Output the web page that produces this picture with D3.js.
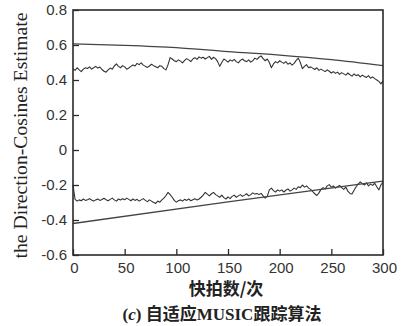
<!DOCTYPE html>
<html>
<head>
<meta charset="utf-8">
<script src="https://cdnjs.cloudflare.com/ajax/libs/d3/7.8.5/d3.min.js"></script>
<style>
  html, body { margin: 0; padding: 0; background: #fff; }
  svg { display: block; }
</style>
</head>
<body>
<svg id="chart" width="412" height="326"></svg>
<script>
// ---- data ----
const xTicks = [0, 50, 100, 150, 200, 250, 300];
const yTicks = [-0.6, -0.4, -0.2, 0, 0.2, 0.4, 0.6, 0.8];
const yTickLabels = ["-0.6", "-0.4", "-0.2", "0", "0.2", "0.4", "0.6", "0.8"];

// true trajectories (sampled)
const trueTopX = [0, 50, 100, 150, 200, 250, 300];
const trueTopY = [0.606, 0.598, 0.585, 0.562, 0.542, 0.516, 0.482];
const trueBotX = [0, 150, 300];
const trueBotY = [-0.42, -0.296, -0.178];

// estimated trajectories, one value every 2 snapshots (0..300)
const estStep = 2;
const estTop = [
  0.465,0.455,0.470,0.458,0.448,0.462,0.470,0.466,0.475,0.462,
  0.470,0.478,0.468,0.474,0.460,0.450,0.445,0.458,0.468,0.462,
  0.480,0.492,0.478,0.470,0.482,0.475,0.462,0.468,0.478,0.486,
  0.480,0.495,0.488,0.498,0.485,0.478,0.472,0.480,0.490,0.482,
  0.476,0.470,0.482,0.478,0.465,0.458,0.488,0.528,0.520,0.510,
  0.505,0.515,0.508,0.498,0.512,0.522,0.515,0.505,0.520,0.528,
  0.518,0.532,0.525,0.530,0.520,0.528,0.535,0.518,0.530,0.522,
  0.505,0.478,0.500,0.520,0.512,0.502,0.515,0.508,0.518,0.505,
  0.498,0.512,0.520,0.510,0.505,0.515,0.502,0.510,0.525,0.518,
  0.530,0.538,0.522,0.510,0.520,0.500,0.470,0.492,0.505,0.498,
  0.510,0.502,0.495,0.505,0.490,0.498,0.485,0.495,0.512,0.525,
  0.500,0.465,0.478,0.488,0.470,0.475,0.468,0.460,0.470,0.455,
  0.462,0.455,0.448,0.458,0.450,0.440,0.448,0.438,0.445,0.432,
  0.442,0.435,0.428,0.440,0.430,0.422,0.435,0.425,0.430,0.418,
  0.428,0.420,0.415,0.425,0.410,0.418,0.408,0.400,0.392,0.378,
  0.395
];
const estBot = [
  -0.200,-0.282,-0.292,-0.285,-0.290,-0.280,-0.288,-0.284,-0.278,-0.286,
  -0.292,-0.285,-0.280,-0.288,-0.283,-0.276,-0.284,-0.290,-0.282,-0.275,
  -0.285,-0.292,-0.280,-0.286,-0.278,-0.284,-0.275,-0.282,-0.290,-0.280,
  -0.288,-0.282,-0.292,-0.285,-0.278,-0.288,-0.295,-0.285,-0.292,-0.300,
  -0.305,-0.292,-0.298,-0.285,-0.275,-0.260,-0.242,-0.255,-0.270,-0.288,
  -0.298,-0.290,-0.285,-0.292,-0.282,-0.288,-0.280,-0.290,-0.284,-0.278,
  -0.286,-0.280,-0.270,-0.258,-0.242,-0.252,-0.262,-0.250,-0.242,-0.255,
  -0.262,-0.270,-0.258,-0.272,-0.280,-0.268,-0.278,-0.265,-0.258,-0.270,
  -0.262,-0.255,-0.265,-0.258,-0.250,-0.262,-0.255,-0.245,-0.252,-0.248,
  -0.255,-0.248,-0.262,-0.275,-0.265,-0.228,-0.218,-0.232,-0.240,-0.228,
  -0.235,-0.228,-0.240,-0.230,-0.222,-0.235,-0.228,-0.218,-0.225,-0.210,
  -0.215,-0.200,-0.212,-0.205,-0.218,-0.225,-0.238,-0.250,-0.260,-0.245,
  -0.225,-0.215,-0.222,-0.205,-0.198,-0.212,-0.205,-0.218,-0.210,-0.202,
  -0.215,-0.225,-0.212,-0.235,-0.248,-0.252,-0.230,-0.210,-0.195,-0.182,
  -0.192,-0.200,-0.188,-0.205,-0.195,-0.202,-0.190,-0.210,-0.228,-0.200,
  -0.182
];

const yLabel = "the Direction-Cosines Estimate";
const xLabel = "快拍数/次";
const captionPrefix = "(";
const captionLetter = "c";
const captionRest = ") 自适应MUSIC跟踪算法";

// ---- layout ----
const L = 73, R = 383, T = 10, B = 255;
const svg = d3.select("#chart");
const x = d3.scaleLinear().domain([0, 300]).range([L, R]);
const y = d3.scaleLinear().domain([-0.6, 0.8]).range([B, T]);

const ink = "#2a2a2a";

// estimated lines
const line = d3.line().x(d => x(d[0])).y(d => y(d[1]));
const topPts = estTop.map((v, i) => [i * estStep, v]);
const botPts = estBot.map((v, i) => [i * estStep, v]);
[topPts, botPts].forEach(pts => {
  svg.append("path").datum(pts).attr("d", line)
    .attr("fill", "none").attr("stroke", "#333").attr("stroke-width", 1.1)
    .attr("stroke-linejoin", "round");
});

// true lines
const smooth = d3.line().x(d => x(d[0])).y(d => y(d[1])).curve(d3.curveMonotoneX);
svg.append("path").datum(trueTopX.map((v, i) => [v, trueTopY[i]])).attr("d", smooth)
  .attr("fill", "none").attr("stroke", "#444").attr("stroke-width", 1.3);
svg.append("path").datum(trueBotX.map((v, i) => [v, trueBotY[i]])).attr("d", smooth)
  .attr("fill", "none").attr("stroke", "#444").attr("stroke-width", 1.3);

// frame
svg.append("rect").attr("x", L).attr("y", T).attr("width", R - L).attr("height", B - T)
  .attr("fill", "none").attr("stroke", ink).attr("stroke-width", 1.6);

// axes with inward ticks
const xAxis = d3.axisBottom(x).tickValues(xTicks).tickSizeInner(-6).tickSizeOuter(0)
  .tickPadding(7).tickFormat(d3.format("d"));
const gx = svg.append("g").attr("transform", `translate(0,${B})`).call(xAxis);
gx.select(".domain").remove();
gx.selectAll(".tick line").attr("stroke", ink).attr("stroke-width", 1.3);
gx.selectAll(".tick text").attr("font-family", "'Liberation Sans', Arial, sans-serif")
  .attr("font-size", 15).attr("fill", "#333").attr("dx", 1);

const yAxis = d3.axisLeft(y).tickValues(yTicks).tickSizeInner(-6).tickSizeOuter(0)
  .tickPadding(6).tickFormat((d, i) => yTickLabels[i]);
const gy = svg.append("g").attr("transform", `translate(${L},0)`).call(yAxis);
gy.select(".domain").remove();
gy.selectAll(".tick line").attr("stroke", ink).attr("stroke-width", 1.3);
gy.selectAll(".tick text").attr("font-family", "'Liberation Sans', Arial, sans-serif")
  .attr("font-size", 15).attr("fill", "#333");

// y label
svg.append("text")
  .attr("transform", `translate(27,${(T + B) / 2 + 3}) rotate(-90)`)
  .attr("text-anchor", "middle")
  .attr("font-family", "'Liberation Serif', 'Times New Roman', serif")
  .attr("font-size", 19).attr("fill", "#222")
  .attr("textLength", 246).attr("lengthAdjust", "spacingAndGlyphs")
  .text(yLabel);

// x label
svg.append("text")
  .attr("x", 226).attr("y", 295).attr("text-anchor", "middle")
  .attr("font-family", "'Noto Sans CJK SC', sans-serif").attr("font-weight", "bold")
  .attr("font-size", 17).attr("fill", "#222")
  .text(xLabel);

// caption
const cap = svg.append("text")
  .attr("x", 222).attr("y", 320).attr("text-anchor", "middle")
  .attr("font-family", "'Liberation Serif', 'Noto Sans CJK SC', serif").attr("font-weight", "bold")
  .attr("font-size", 17).attr("fill", "#222");
cap.append("tspan").text(captionPrefix);
cap.append("tspan").attr("font-style", "italic").text(captionLetter);
cap.append("tspan").text(captionRest);
</script>
</body>
</html>
